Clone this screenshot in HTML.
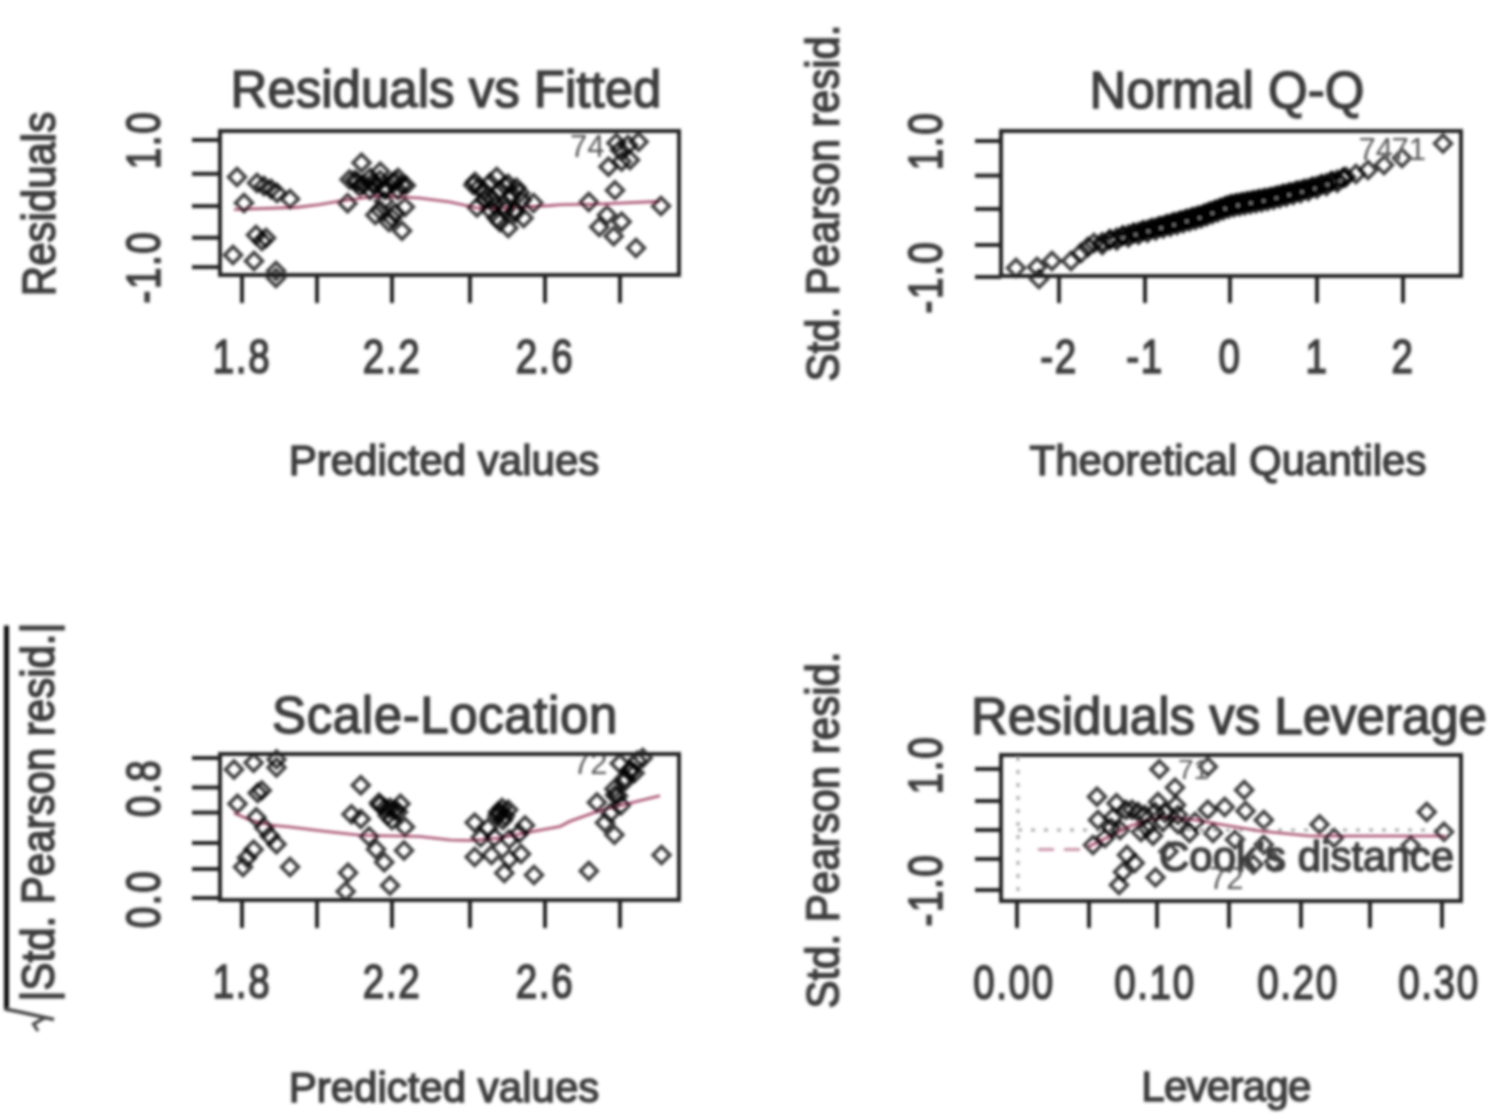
<!DOCTYPE html>
<html><head><meta charset="utf-8"><style>
html,body{margin:0;padding:0;background:#fff;width:1500px;height:1114px;overflow:hidden}
svg{display:block;font-family:"Liberation Sans",sans-serif}
</style></head><body>
<svg width="1500" height="1114" viewBox="0 0 1500 1114">
<defs><filter id="b" x="0" y="0" width="100%" height="100%" filterUnits="userSpaceOnUse"><feGaussianBlur stdDeviation="1.5"/></filter></defs>
<rect width="1500" height="1114" fill="#fff"/>
<g filter="url(#b)">
<text x="0" y="0" transform="translate(446,107)" font-size="51" text-anchor="middle" fill="#3c3c3c"  stroke="#3c3c3c" stroke-width="1.5">Residuals vs Fitted</text>
<polyline points="234,209.5 297,207.4 320,204.5 340,201 379,196 419,198 450,202 477,208 513,207.5 549,205.6 560,204.7 600,204 660,201.4" fill="none" stroke="#a85070" stroke-width="2.6" />
<path d="M237.0 168.6l8.4 8.4l-8.4 8.4l-8.4 -8.4z" fill="none" stroke="#000" stroke-opacity="0.75" stroke-width="3.6"/>
<path d="M257.0 174.6l8.4 8.4l-8.4 8.4l-8.4 -8.4z" fill="none" stroke="#000" stroke-opacity="0.75" stroke-width="3.6"/>
<path d="M264.0 177.6l8.4 8.4l-8.4 8.4l-8.4 -8.4z" fill="none" stroke="#000" stroke-opacity="0.75" stroke-width="3.6"/>
<path d="M271.0 180.6l8.4 8.4l-8.4 8.4l-8.4 -8.4z" fill="none" stroke="#000" stroke-opacity="0.75" stroke-width="3.6"/>
<path d="M277.0 184.6l8.4 8.4l-8.4 8.4l-8.4 -8.4z" fill="none" stroke="#000" stroke-opacity="0.75" stroke-width="3.6"/>
<path d="M290.0 190.6l8.4 8.4l-8.4 8.4l-8.4 -8.4z" fill="none" stroke="#000" stroke-opacity="0.75" stroke-width="3.6"/>
<path d="M244.0 194.6l8.4 8.4l-8.4 8.4l-8.4 -8.4z" fill="none" stroke="#000" stroke-opacity="0.75" stroke-width="3.6"/>
<path d="M256.0 226.6l8.4 8.4l-8.4 8.4l-8.4 -8.4z" fill="none" stroke="#000" stroke-opacity="0.75" stroke-width="3.6"/>
<path d="M266.0 229.6l8.4 8.4l-8.4 8.4l-8.4 -8.4z" fill="none" stroke="#000" stroke-opacity="0.75" stroke-width="3.6"/>
<path d="M262.0 232.6l8.4 8.4l-8.4 8.4l-8.4 -8.4z" fill="none" stroke="#000" stroke-opacity="0.75" stroke-width="3.6"/>
<path d="M233.0 246.6l8.4 8.4l-8.4 8.4l-8.4 -8.4z" fill="none" stroke="#000" stroke-opacity="0.75" stroke-width="3.6"/>
<path d="M254.0 252.6l8.4 8.4l-8.4 8.4l-8.4 -8.4z" fill="none" stroke="#000" stroke-opacity="0.75" stroke-width="3.6"/>
<path d="M276.0 262.6l8.4 8.4l-8.4 8.4l-8.4 -8.4z" fill="none" stroke="#000" stroke-opacity="0.75" stroke-width="3.6"/>
<path d="M276.0 269.6l8.4 8.4l-8.4 8.4l-8.4 -8.4z" fill="none" stroke="#000" stroke-opacity="0.75" stroke-width="3.6"/>
<path d="M361.5 154.3l8.4 8.4l-8.4 8.4l-8.4 -8.4z" fill="none" stroke="#000" stroke-opacity="0.75" stroke-width="3.6"/>
<path d="M349.6 171.1l8.4 8.4l-8.4 8.4l-8.4 -8.4z" fill="none" stroke="#000" stroke-opacity="0.75" stroke-width="3.6"/>
<path d="M363.4 176.0l8.4 8.4l-8.4 8.4l-8.4 -8.4z" fill="none" stroke="#000" stroke-opacity="0.75" stroke-width="3.6"/>
<path d="M380.2 163.2l8.4 8.4l-8.4 8.4l-8.4 -8.4z" fill="none" stroke="#000" stroke-opacity="0.75" stroke-width="3.6"/>
<path d="M375.3 177.0l8.4 8.4l-8.4 8.4l-8.4 -8.4z" fill="none" stroke="#000" stroke-opacity="0.75" stroke-width="3.6"/>
<path d="M392.0 174.0l8.4 8.4l-8.4 8.4l-8.4 -8.4z" fill="none" stroke="#000" stroke-opacity="0.75" stroke-width="3.6"/>
<path d="M405.9 177.0l8.4 8.4l-8.4 8.4l-8.4 -8.4z" fill="none" stroke="#000" stroke-opacity="0.75" stroke-width="3.6"/>
<path d="M347.6 194.8l8.4 8.4l-8.4 8.4l-8.4 -8.4z" fill="none" stroke="#000" stroke-opacity="0.75" stroke-width="3.6"/>
<path d="M404.9 198.7l8.4 8.4l-8.4 8.4l-8.4 -8.4z" fill="none" stroke="#000" stroke-opacity="0.75" stroke-width="3.6"/>
<path d="M375.3 206.6l8.4 8.4l-8.4 8.4l-8.4 -8.4z" fill="none" stroke="#000" stroke-opacity="0.75" stroke-width="3.6"/>
<path d="M389.0 213.6l8.4 8.4l-8.4 8.4l-8.4 -8.4z" fill="none" stroke="#000" stroke-opacity="0.75" stroke-width="3.6"/>
<path d="M402.0 222.4l8.4 8.4l-8.4 8.4l-8.4 -8.4z" fill="none" stroke="#000" stroke-opacity="0.75" stroke-width="3.6"/>
<path d="M384.0 192.6l8.4 8.4l-8.4 8.4l-8.4 -8.4z" fill="none" stroke="#000" stroke-opacity="0.75" stroke-width="3.6"/>
<path d="M370.0 169.6l8.4 8.4l-8.4 8.4l-8.4 -8.4z" fill="none" stroke="#000" stroke-opacity="0.75" stroke-width="3.6"/>
<path d="M385.0 181.6l8.4 8.4l-8.4 8.4l-8.4 -8.4z" fill="none" stroke="#000" stroke-opacity="0.75" stroke-width="3.6"/>
<path d="M398.0 169.6l8.4 8.4l-8.4 8.4l-8.4 -8.4z" fill="none" stroke="#000" stroke-opacity="0.75" stroke-width="3.6"/>
<path d="M357.0 173.6l8.4 8.4l-8.4 8.4l-8.4 -8.4z" fill="none" stroke="#000" stroke-opacity="0.75" stroke-width="3.6"/>
<path d="M395.0 204.6l8.4 8.4l-8.4 8.4l-8.4 -8.4z" fill="none" stroke="#000" stroke-opacity="0.75" stroke-width="3.6"/>
<path d="M473.3 176.6l8.4 8.4l-8.4 8.4l-8.4 -8.4z" fill="none" stroke="#000" stroke-opacity="0.75" stroke-width="3.6"/>
<path d="M478.7 179.3l8.4 8.4l-8.4 8.4l-8.4 -8.4z" fill="none" stroke="#000" stroke-opacity="0.75" stroke-width="3.6"/>
<path d="M496.7 168.6l8.4 8.4l-8.4 8.4l-8.4 -8.4z" fill="none" stroke="#000" stroke-opacity="0.75" stroke-width="3.6"/>
<path d="M491.3 190.1l8.4 8.4l-8.4 8.4l-8.4 -8.4z" fill="none" stroke="#000" stroke-opacity="0.75" stroke-width="3.6"/>
<path d="M508.0 175.6l8.4 8.4l-8.4 8.4l-8.4 -8.4z" fill="none" stroke="#000" stroke-opacity="0.75" stroke-width="3.6"/>
<path d="M516.4 179.3l8.4 8.4l-8.4 8.4l-8.4 -8.4z" fill="none" stroke="#000" stroke-opacity="0.75" stroke-width="3.6"/>
<path d="M521.8 191.9l8.4 8.4l-8.4 8.4l-8.4 -8.4z" fill="none" stroke="#000" stroke-opacity="0.75" stroke-width="3.6"/>
<path d="M533.5 194.6l8.4 8.4l-8.4 8.4l-8.4 -8.4z" fill="none" stroke="#000" stroke-opacity="0.75" stroke-width="3.6"/>
<path d="M477.0 199.1l8.4 8.4l-8.4 8.4l-8.4 -8.4z" fill="none" stroke="#000" stroke-opacity="0.75" stroke-width="3.6"/>
<path d="M496.7 209.6l8.4 8.4l-8.4 8.4l-8.4 -8.4z" fill="none" stroke="#000" stroke-opacity="0.75" stroke-width="3.6"/>
<path d="M508.3 219.6l8.4 8.4l-8.4 8.4l-8.4 -8.4z" fill="none" stroke="#000" stroke-opacity="0.75" stroke-width="3.6"/>
<path d="M523.6 209.6l8.4 8.4l-8.4 8.4l-8.4 -8.4z" fill="none" stroke="#000" stroke-opacity="0.75" stroke-width="3.6"/>
<path d="M504.0 197.3l8.4 8.4l-8.4 8.4l-8.4 -8.4z" fill="none" stroke="#000" stroke-opacity="0.75" stroke-width="3.6"/>
<path d="M485.0 183.6l8.4 8.4l-8.4 8.4l-8.4 -8.4z" fill="none" stroke="#000" stroke-opacity="0.75" stroke-width="3.6"/>
<path d="M500.0 181.6l8.4 8.4l-8.4 8.4l-8.4 -8.4z" fill="none" stroke="#000" stroke-opacity="0.75" stroke-width="3.6"/>
<path d="M512.0 186.6l8.4 8.4l-8.4 8.4l-8.4 -8.4z" fill="none" stroke="#000" stroke-opacity="0.75" stroke-width="3.6"/>
<path d="M490.0 201.6l8.4 8.4l-8.4 8.4l-8.4 -8.4z" fill="none" stroke="#000" stroke-opacity="0.75" stroke-width="3.6"/>
<path d="M515.0 201.6l8.4 8.4l-8.4 8.4l-8.4 -8.4z" fill="none" stroke="#000" stroke-opacity="0.75" stroke-width="3.6"/>
<path d="M616.4 134.7l8.4 8.4l-8.4 8.4l-8.4 -8.4z" fill="none" stroke="#000" stroke-opacity="0.75" stroke-width="3.6"/>
<path d="M638.6 133.4l8.4 8.4l-8.4 8.4l-8.4 -8.4z" fill="none" stroke="#000" stroke-opacity="0.75" stroke-width="3.6"/>
<path d="M608.5 158.3l8.4 8.4l-8.4 8.4l-8.4 -8.4z" fill="none" stroke="#000" stroke-opacity="0.75" stroke-width="3.6"/>
<path d="M621.6 153.1l8.4 8.4l-8.4 8.4l-8.4 -8.4z" fill="none" stroke="#000" stroke-opacity="0.75" stroke-width="3.6"/>
<path d="M615.0 181.9l8.4 8.4l-8.4 8.4l-8.4 -8.4z" fill="none" stroke="#000" stroke-opacity="0.75" stroke-width="3.6"/>
<path d="M588.8 193.6l8.4 8.4l-8.4 8.4l-8.4 -8.4z" fill="none" stroke="#000" stroke-opacity="0.75" stroke-width="3.6"/>
<path d="M661.0 197.6l8.4 8.4l-8.4 8.4l-8.4 -8.4z" fill="none" stroke="#000" stroke-opacity="0.75" stroke-width="3.6"/>
<path d="M599.3 218.6l8.4 8.4l-8.4 8.4l-8.4 -8.4z" fill="none" stroke="#000" stroke-opacity="0.75" stroke-width="3.6"/>
<path d="M613.7 227.8l8.4 8.4l-8.4 8.4l-8.4 -8.4z" fill="none" stroke="#000" stroke-opacity="0.75" stroke-width="3.6"/>
<path d="M621.6 213.3l8.4 8.4l-8.4 8.4l-8.4 -8.4z" fill="none" stroke="#000" stroke-opacity="0.75" stroke-width="3.6"/>
<path d="M607.0 206.6l8.4 8.4l-8.4 8.4l-8.4 -8.4z" fill="none" stroke="#000" stroke-opacity="0.75" stroke-width="3.6"/>
<path d="M636.0 239.6l8.4 8.4l-8.4 8.4l-8.4 -8.4z" fill="none" stroke="#000" stroke-opacity="0.75" stroke-width="3.6"/>
<path d="M628.0 136.6l8.4 8.4l-8.4 8.4l-8.4 -8.4z" fill="none" stroke="#000" stroke-opacity="0.75" stroke-width="3.6"/>
<path d="M355.0 171.6l8.4 8.4l-8.4 8.4l-8.4 -8.4z" fill="none" stroke="#000" stroke-opacity="0.75" stroke-width="3.6"/>
<path d="M372.0 174.6l8.4 8.4l-8.4 8.4l-8.4 -8.4z" fill="none" stroke="#000" stroke-opacity="0.75" stroke-width="3.6"/>
<path d="M380.0 171.6l8.4 8.4l-8.4 8.4l-8.4 -8.4z" fill="none" stroke="#000" stroke-opacity="0.75" stroke-width="3.6"/>
<path d="M395.0 172.6l8.4 8.4l-8.4 8.4l-8.4 -8.4z" fill="none" stroke="#000" stroke-opacity="0.75" stroke-width="3.6"/>
<path d="M402.0 176.6l8.4 8.4l-8.4 8.4l-8.4 -8.4z" fill="none" stroke="#000" stroke-opacity="0.75" stroke-width="3.6"/>
<path d="M360.0 178.6l8.4 8.4l-8.4 8.4l-8.4 -8.4z" fill="none" stroke="#000" stroke-opacity="0.75" stroke-width="3.6"/>
<path d="M370.0 181.6l8.4 8.4l-8.4 8.4l-8.4 -8.4z" fill="none" stroke="#000" stroke-opacity="0.75" stroke-width="3.6"/>
<path d="M385.0 179.6l8.4 8.4l-8.4 8.4l-8.4 -8.4z" fill="none" stroke="#000" stroke-opacity="0.75" stroke-width="3.6"/>
<path d="M398.0 181.6l8.4 8.4l-8.4 8.4l-8.4 -8.4z" fill="none" stroke="#000" stroke-opacity="0.75" stroke-width="3.6"/>
<path d="M380.0 201.6l8.4 8.4l-8.4 8.4l-8.4 -8.4z" fill="none" stroke="#000" stroke-opacity="0.75" stroke-width="3.6"/>
<path d="M392.0 209.6l8.4 8.4l-8.4 8.4l-8.4 -8.4z" fill="none" stroke="#000" stroke-opacity="0.75" stroke-width="3.6"/>
<path d="M475.0 173.6l8.4 8.4l-8.4 8.4l-8.4 -8.4z" fill="none" stroke="#000" stroke-opacity="0.75" stroke-width="3.6"/>
<path d="M490.0 174.6l8.4 8.4l-8.4 8.4l-8.4 -8.4z" fill="none" stroke="#000" stroke-opacity="0.75" stroke-width="3.6"/>
<path d="M505.0 177.6l8.4 8.4l-8.4 8.4l-8.4 -8.4z" fill="none" stroke="#000" stroke-opacity="0.75" stroke-width="3.6"/>
<path d="M520.0 184.6l8.4 8.4l-8.4 8.4l-8.4 -8.4z" fill="none" stroke="#000" stroke-opacity="0.75" stroke-width="3.6"/>
<path d="M485.0 191.6l8.4 8.4l-8.4 8.4l-8.4 -8.4z" fill="none" stroke="#000" stroke-opacity="0.75" stroke-width="3.6"/>
<path d="M495.0 196.6l8.4 8.4l-8.4 8.4l-8.4 -8.4z" fill="none" stroke="#000" stroke-opacity="0.75" stroke-width="3.6"/>
<path d="M505.0 201.6l8.4 8.4l-8.4 8.4l-8.4 -8.4z" fill="none" stroke="#000" stroke-opacity="0.75" stroke-width="3.6"/>
<path d="M515.0 204.6l8.4 8.4l-8.4 8.4l-8.4 -8.4z" fill="none" stroke="#000" stroke-opacity="0.75" stroke-width="3.6"/>
<path d="M500.0 213.6l8.4 8.4l-8.4 8.4l-8.4 -8.4z" fill="none" stroke="#000" stroke-opacity="0.75" stroke-width="3.6"/>
<path d="M620.0 141.6l8.4 8.4l-8.4 8.4l-8.4 -8.4z" fill="none" stroke="#000" stroke-opacity="0.75" stroke-width="3.6"/>
<path d="M630.0 151.6l8.4 8.4l-8.4 8.4l-8.4 -8.4z" fill="none" stroke="#000" stroke-opacity="0.75" stroke-width="3.6"/>
<text x="0" y="0" transform="translate(570,157)" font-size="31" text-anchor="start" fill="#555" >74</text>
<rect x="220" y="131" width="459" height="144" fill="none" stroke="#222" stroke-width="4"/>
<line x1="242" y1="275" x2="242" y2="303" stroke="#222" stroke-width="4"/>
<line x1="317" y1="275" x2="317" y2="303" stroke="#222" stroke-width="4"/>
<line x1="392" y1="275" x2="392" y2="303" stroke="#222" stroke-width="4"/>
<line x1="470" y1="275" x2="470" y2="303" stroke="#222" stroke-width="4"/>
<line x1="545" y1="275" x2="545" y2="303" stroke="#222" stroke-width="4"/>
<line x1="620" y1="275" x2="620" y2="303" stroke="#222" stroke-width="4"/>
<line x1="192" y1="140" x2="220" y2="140" stroke="#222" stroke-width="4"/>
<line x1="192" y1="173.8" x2="220" y2="173.8" stroke="#222" stroke-width="4"/>
<line x1="192" y1="206.1" x2="220" y2="206.1" stroke="#222" stroke-width="4"/>
<line x1="192" y1="237.7" x2="220" y2="237.7" stroke="#222" stroke-width="4"/>
<line x1="192" y1="267.1" x2="220" y2="267.1" stroke="#222" stroke-width="4"/>
<text x="0" y="0" transform="translate(242,373) scale(0.92,1.14)" font-size="42" text-anchor="middle" fill="#3c3c3c"  stroke="#3c3c3c" stroke-width="1.5" letter-spacing="1.7">1.8</text>
<text x="0" y="0" transform="translate(392,373) scale(0.92,1.14)" font-size="42" text-anchor="middle" fill="#3c3c3c"  stroke="#3c3c3c" stroke-width="1.5" letter-spacing="1.7">2.2</text>
<text x="0" y="0" transform="translate(545,373) scale(0.92,1.14)" font-size="42" text-anchor="middle" fill="#3c3c3c"  stroke="#3c3c3c" stroke-width="1.5" letter-spacing="1.7">2.6</text>
<text x="0" y="0" transform="translate(159.5,140) rotate(-90) scale(0.92,1.14)" font-size="42" text-anchor="middle" fill="#3c3c3c"  stroke="#3c3c3c" stroke-width="1.5" letter-spacing="1.7">1.0</text>
<text x="0" y="0" transform="translate(159.5,267) rotate(-90) scale(0.92,1.14)" font-size="42" text-anchor="middle" fill="#3c3c3c"  stroke="#3c3c3c" stroke-width="1.5" letter-spacing="1.7">-1.0</text>
<text x="0" y="0" transform="translate(55,204) rotate(-90) scale(1,1.1)" font-size="42" text-anchor="middle" fill="#3c3c3c"  stroke="#3c3c3c" stroke-width="1.5">Residuals</text>
<text x="0" y="0" transform="translate(444,475)" font-size="42" text-anchor="middle" fill="#3c3c3c"  stroke="#3c3c3c" stroke-width="1.5">Predicted values</text>
<text x="0" y="0" transform="translate(1227,108)" font-size="51" text-anchor="middle" fill="#3c3c3c"  stroke="#3c3c3c" stroke-width="1.5">Normal Q-Q</text>
<path d="M1016.0 259.6l8.4 8.4l-8.4 8.4l-8.4 -8.4z" fill="none" stroke="#000" stroke-opacity="0.75" stroke-width="3.6"/>
<path d="M1037.0 258.6l8.4 8.4l-8.4 8.4l-8.4 -8.4z" fill="none" stroke="#000" stroke-opacity="0.75" stroke-width="3.6"/>
<path d="M1039.0 270.6l8.4 8.4l-8.4 8.4l-8.4 -8.4z" fill="none" stroke="#000" stroke-opacity="0.75" stroke-width="3.6"/>
<path d="M1052.0 252.6l8.4 8.4l-8.4 8.4l-8.4 -8.4z" fill="none" stroke="#000" stroke-opacity="0.75" stroke-width="3.6"/>
<path d="M1071.0 252.6l8.4 8.4l-8.4 8.4l-8.4 -8.4z" fill="none" stroke="#000" stroke-opacity="0.75" stroke-width="3.6"/>
<path d="M1081.0 244.6l8.4 8.4l-8.4 8.4l-8.4 -8.4z" fill="none" stroke="#000" stroke-opacity="0.75" stroke-width="3.6"/>
<path d="M1088.0 238.6l8.4 8.4l-8.4 8.4l-8.4 -8.4z" fill="none" stroke="#000" stroke-opacity="0.75" stroke-width="3.6"/>
<path d="M1094.0 234.6l8.4 8.4l-8.4 8.4l-8.4 -8.4z" fill="none" stroke="#000" stroke-opacity="0.75" stroke-width="3.6"/>
<path d="M1102.3 233.7l8.4 8.4l-8.4 8.4l-8.4 -8.4z" fill="none" stroke="#000" stroke-opacity="0.75" stroke-width="3.6"/>
<path d="M1102.3 236.7l8.4 8.4l-8.4 8.4l-8.4 -8.4z" fill="none" stroke="#000" stroke-opacity="0.75" stroke-width="3.6"/>
<path d="M1109.9 231.3l8.4 8.4l-8.4 8.4l-8.4 -8.4z" fill="none" stroke="#000" stroke-opacity="0.75" stroke-width="3.6"/>
<path d="M1109.9 230.8l8.4 8.4l-8.4 8.4l-8.4 -8.4z" fill="none" stroke="#000" stroke-opacity="0.75" stroke-width="3.6"/>
<path d="M1116.7 229.2l8.4 8.4l-8.4 8.4l-8.4 -8.4z" fill="none" stroke="#000" stroke-opacity="0.75" stroke-width="3.6"/>
<path d="M1116.7 232.2l8.4 8.4l-8.4 8.4l-8.4 -8.4z" fill="none" stroke="#000" stroke-opacity="0.75" stroke-width="3.6"/>
<path d="M1122.8 227.5l8.4 8.4l-8.4 8.4l-8.4 -8.4z" fill="none" stroke="#000" stroke-opacity="0.75" stroke-width="3.6"/>
<path d="M1122.8 227.0l8.4 8.4l-8.4 8.4l-8.4 -8.4z" fill="none" stroke="#000" stroke-opacity="0.75" stroke-width="3.6"/>
<path d="M1128.4 226.1l8.4 8.4l-8.4 8.4l-8.4 -8.4z" fill="none" stroke="#000" stroke-opacity="0.75" stroke-width="3.6"/>
<path d="M1128.4 229.1l8.4 8.4l-8.4 8.4l-8.4 -8.4z" fill="none" stroke="#000" stroke-opacity="0.75" stroke-width="3.6"/>
<path d="M1133.6 224.8l8.4 8.4l-8.4 8.4l-8.4 -8.4z" fill="none" stroke="#000" stroke-opacity="0.75" stroke-width="3.6"/>
<path d="M1133.6 224.3l8.4 8.4l-8.4 8.4l-8.4 -8.4z" fill="none" stroke="#000" stroke-opacity="0.75" stroke-width="3.6"/>
<path d="M1138.5 223.5l8.4 8.4l-8.4 8.4l-8.4 -8.4z" fill="none" stroke="#000" stroke-opacity="0.75" stroke-width="3.6"/>
<path d="M1138.5 226.5l8.4 8.4l-8.4 8.4l-8.4 -8.4z" fill="none" stroke="#000" stroke-opacity="0.75" stroke-width="3.6"/>
<path d="M1143.1 222.4l8.4 8.4l-8.4 8.4l-8.4 -8.4z" fill="none" stroke="#000" stroke-opacity="0.75" stroke-width="3.6"/>
<path d="M1143.1 221.9l8.4 8.4l-8.4 8.4l-8.4 -8.4z" fill="none" stroke="#000" stroke-opacity="0.75" stroke-width="3.6"/>
<path d="M1147.5 221.3l8.4 8.4l-8.4 8.4l-8.4 -8.4z" fill="none" stroke="#000" stroke-opacity="0.75" stroke-width="3.6"/>
<path d="M1147.5 224.3l8.4 8.4l-8.4 8.4l-8.4 -8.4z" fill="none" stroke="#000" stroke-opacity="0.75" stroke-width="3.6"/>
<path d="M1151.7 220.2l8.4 8.4l-8.4 8.4l-8.4 -8.4z" fill="none" stroke="#000" stroke-opacity="0.75" stroke-width="3.6"/>
<path d="M1151.7 219.7l8.4 8.4l-8.4 8.4l-8.4 -8.4z" fill="none" stroke="#000" stroke-opacity="0.75" stroke-width="3.6"/>
<path d="M1155.7 219.2l8.4 8.4l-8.4 8.4l-8.4 -8.4z" fill="none" stroke="#000" stroke-opacity="0.75" stroke-width="3.6"/>
<path d="M1155.7 222.2l8.4 8.4l-8.4 8.4l-8.4 -8.4z" fill="none" stroke="#000" stroke-opacity="0.75" stroke-width="3.6"/>
<path d="M1159.5 218.2l8.4 8.4l-8.4 8.4l-8.4 -8.4z" fill="none" stroke="#000" stroke-opacity="0.75" stroke-width="3.6"/>
<path d="M1159.5 217.7l8.4 8.4l-8.4 8.4l-8.4 -8.4z" fill="none" stroke="#000" stroke-opacity="0.75" stroke-width="3.6"/>
<path d="M1163.2 217.2l8.4 8.4l-8.4 8.4l-8.4 -8.4z" fill="none" stroke="#000" stroke-opacity="0.75" stroke-width="3.6"/>
<path d="M1163.2 220.2l8.4 8.4l-8.4 8.4l-8.4 -8.4z" fill="none" stroke="#000" stroke-opacity="0.75" stroke-width="3.6"/>
<path d="M1166.8 216.3l8.4 8.4l-8.4 8.4l-8.4 -8.4z" fill="none" stroke="#000" stroke-opacity="0.75" stroke-width="3.6"/>
<path d="M1166.8 215.8l8.4 8.4l-8.4 8.4l-8.4 -8.4z" fill="none" stroke="#000" stroke-opacity="0.75" stroke-width="3.6"/>
<path d="M1170.3 215.3l8.4 8.4l-8.4 8.4l-8.4 -8.4z" fill="none" stroke="#000" stroke-opacity="0.75" stroke-width="3.6"/>
<path d="M1170.3 218.3l8.4 8.4l-8.4 8.4l-8.4 -8.4z" fill="none" stroke="#000" stroke-opacity="0.75" stroke-width="3.6"/>
<path d="M1173.7 214.4l8.4 8.4l-8.4 8.4l-8.4 -8.4z" fill="none" stroke="#000" stroke-opacity="0.75" stroke-width="3.6"/>
<path d="M1173.7 213.9l8.4 8.4l-8.4 8.4l-8.4 -8.4z" fill="none" stroke="#000" stroke-opacity="0.75" stroke-width="3.6"/>
<path d="M1177.0 213.6l8.4 8.4l-8.4 8.4l-8.4 -8.4z" fill="none" stroke="#000" stroke-opacity="0.75" stroke-width="3.6"/>
<path d="M1177.0 216.6l8.4 8.4l-8.4 8.4l-8.4 -8.4z" fill="none" stroke="#000" stroke-opacity="0.75" stroke-width="3.6"/>
<path d="M1180.2 212.7l8.4 8.4l-8.4 8.4l-8.4 -8.4z" fill="none" stroke="#000" stroke-opacity="0.75" stroke-width="3.6"/>
<path d="M1180.2 212.2l8.4 8.4l-8.4 8.4l-8.4 -8.4z" fill="none" stroke="#000" stroke-opacity="0.75" stroke-width="3.6"/>
<path d="M1183.3 211.9l8.4 8.4l-8.4 8.4l-8.4 -8.4z" fill="none" stroke="#000" stroke-opacity="0.75" stroke-width="3.6"/>
<path d="M1183.3 214.9l8.4 8.4l-8.4 8.4l-8.4 -8.4z" fill="none" stroke="#000" stroke-opacity="0.75" stroke-width="3.6"/>
<path d="M1186.4 211.0l8.4 8.4l-8.4 8.4l-8.4 -8.4z" fill="none" stroke="#000" stroke-opacity="0.75" stroke-width="3.6"/>
<path d="M1186.4 210.5l8.4 8.4l-8.4 8.4l-8.4 -8.4z" fill="none" stroke="#000" stroke-opacity="0.75" stroke-width="3.6"/>
<path d="M1189.5 210.2l8.4 8.4l-8.4 8.4l-8.4 -8.4z" fill="none" stroke="#000" stroke-opacity="0.75" stroke-width="3.6"/>
<path d="M1189.5 213.2l8.4 8.4l-8.4 8.4l-8.4 -8.4z" fill="none" stroke="#000" stroke-opacity="0.75" stroke-width="3.6"/>
<path d="M1192.5 209.4l8.4 8.4l-8.4 8.4l-8.4 -8.4z" fill="none" stroke="#000" stroke-opacity="0.75" stroke-width="3.6"/>
<path d="M1192.5 208.9l8.4 8.4l-8.4 8.4l-8.4 -8.4z" fill="none" stroke="#000" stroke-opacity="0.75" stroke-width="3.6"/>
<path d="M1195.4 208.6l8.4 8.4l-8.4 8.4l-8.4 -8.4z" fill="none" stroke="#000" stroke-opacity="0.75" stroke-width="3.6"/>
<path d="M1195.4 211.6l8.4 8.4l-8.4 8.4l-8.4 -8.4z" fill="none" stroke="#000" stroke-opacity="0.75" stroke-width="3.6"/>
<path d="M1198.3 207.9l8.4 8.4l-8.4 8.4l-8.4 -8.4z" fill="none" stroke="#000" stroke-opacity="0.75" stroke-width="3.6"/>
<path d="M1198.3 207.4l8.4 8.4l-8.4 8.4l-8.4 -8.4z" fill="none" stroke="#000" stroke-opacity="0.75" stroke-width="3.6"/>
<path d="M1201.2 207.0l8.4 8.4l-8.4 8.4l-8.4 -8.4z" fill="none" stroke="#000" stroke-opacity="0.75" stroke-width="3.6"/>
<path d="M1201.2 210.0l8.4 8.4l-8.4 8.4l-8.4 -8.4z" fill="none" stroke="#000" stroke-opacity="0.75" stroke-width="3.6"/>
<path d="M1204.0 206.0l8.4 8.4l-8.4 8.4l-8.4 -8.4z" fill="none" stroke="#000" stroke-opacity="0.75" stroke-width="3.6"/>
<path d="M1204.0 205.5l8.4 8.4l-8.4 8.4l-8.4 -8.4z" fill="none" stroke="#000" stroke-opacity="0.75" stroke-width="3.6"/>
<path d="M1206.8 204.9l8.4 8.4l-8.4 8.4l-8.4 -8.4z" fill="none" stroke="#000" stroke-opacity="0.75" stroke-width="3.6"/>
<path d="M1206.8 207.9l8.4 8.4l-8.4 8.4l-8.4 -8.4z" fill="none" stroke="#000" stroke-opacity="0.75" stroke-width="3.6"/>
<path d="M1209.6 203.9l8.4 8.4l-8.4 8.4l-8.4 -8.4z" fill="none" stroke="#000" stroke-opacity="0.75" stroke-width="3.6"/>
<path d="M1209.6 203.4l8.4 8.4l-8.4 8.4l-8.4 -8.4z" fill="none" stroke="#000" stroke-opacity="0.75" stroke-width="3.6"/>
<path d="M1212.4 202.9l8.4 8.4l-8.4 8.4l-8.4 -8.4z" fill="none" stroke="#000" stroke-opacity="0.75" stroke-width="3.6"/>
<path d="M1212.4 205.9l8.4 8.4l-8.4 8.4l-8.4 -8.4z" fill="none" stroke="#000" stroke-opacity="0.75" stroke-width="3.6"/>
<path d="M1215.1 202.0l8.4 8.4l-8.4 8.4l-8.4 -8.4z" fill="none" stroke="#000" stroke-opacity="0.75" stroke-width="3.6"/>
<path d="M1215.1 201.5l8.4 8.4l-8.4 8.4l-8.4 -8.4z" fill="none" stroke="#000" stroke-opacity="0.75" stroke-width="3.6"/>
<path d="M1217.8 201.0l8.4 8.4l-8.4 8.4l-8.4 -8.4z" fill="none" stroke="#000" stroke-opacity="0.75" stroke-width="3.6"/>
<path d="M1217.8 204.0l8.4 8.4l-8.4 8.4l-8.4 -8.4z" fill="none" stroke="#000" stroke-opacity="0.75" stroke-width="3.6"/>
<path d="M1220.5 200.0l8.4 8.4l-8.4 8.4l-8.4 -8.4z" fill="none" stroke="#000" stroke-opacity="0.75" stroke-width="3.6"/>
<path d="M1220.5 199.5l8.4 8.4l-8.4 8.4l-8.4 -8.4z" fill="none" stroke="#000" stroke-opacity="0.75" stroke-width="3.6"/>
<path d="M1223.3 199.0l8.4 8.4l-8.4 8.4l-8.4 -8.4z" fill="none" stroke="#000" stroke-opacity="0.75" stroke-width="3.6"/>
<path d="M1223.3 202.0l8.4 8.4l-8.4 8.4l-8.4 -8.4z" fill="none" stroke="#000" stroke-opacity="0.75" stroke-width="3.6"/>
<path d="M1226.0 198.1l8.4 8.4l-8.4 8.4l-8.4 -8.4z" fill="none" stroke="#000" stroke-opacity="0.75" stroke-width="3.6"/>
<path d="M1226.0 197.6l8.4 8.4l-8.4 8.4l-8.4 -8.4z" fill="none" stroke="#000" stroke-opacity="0.75" stroke-width="3.6"/>
<path d="M1228.7 197.1l8.4 8.4l-8.4 8.4l-8.4 -8.4z" fill="none" stroke="#000" stroke-opacity="0.75" stroke-width="3.6"/>
<path d="M1228.7 200.1l8.4 8.4l-8.4 8.4l-8.4 -8.4z" fill="none" stroke="#000" stroke-opacity="0.75" stroke-width="3.6"/>
<path d="M1231.3 196.4l8.4 8.4l-8.4 8.4l-8.4 -8.4z" fill="none" stroke="#000" stroke-opacity="0.75" stroke-width="3.6"/>
<path d="M1231.3 195.9l8.4 8.4l-8.4 8.4l-8.4 -8.4z" fill="none" stroke="#000" stroke-opacity="0.75" stroke-width="3.6"/>
<path d="M1234.0 195.9l8.4 8.4l-8.4 8.4l-8.4 -8.4z" fill="none" stroke="#000" stroke-opacity="0.75" stroke-width="3.6"/>
<path d="M1234.0 198.9l8.4 8.4l-8.4 8.4l-8.4 -8.4z" fill="none" stroke="#000" stroke-opacity="0.75" stroke-width="3.6"/>
<path d="M1236.7 195.4l8.4 8.4l-8.4 8.4l-8.4 -8.4z" fill="none" stroke="#000" stroke-opacity="0.75" stroke-width="3.6"/>
<path d="M1236.7 194.9l8.4 8.4l-8.4 8.4l-8.4 -8.4z" fill="none" stroke="#000" stroke-opacity="0.75" stroke-width="3.6"/>
<path d="M1239.5 194.9l8.4 8.4l-8.4 8.4l-8.4 -8.4z" fill="none" stroke="#000" stroke-opacity="0.75" stroke-width="3.6"/>
<path d="M1239.5 197.9l8.4 8.4l-8.4 8.4l-8.4 -8.4z" fill="none" stroke="#000" stroke-opacity="0.75" stroke-width="3.6"/>
<path d="M1242.2 194.4l8.4 8.4l-8.4 8.4l-8.4 -8.4z" fill="none" stroke="#000" stroke-opacity="0.75" stroke-width="3.6"/>
<path d="M1242.2 193.9l8.4 8.4l-8.4 8.4l-8.4 -8.4z" fill="none" stroke="#000" stroke-opacity="0.75" stroke-width="3.6"/>
<path d="M1244.9 193.9l8.4 8.4l-8.4 8.4l-8.4 -8.4z" fill="none" stroke="#000" stroke-opacity="0.75" stroke-width="3.6"/>
<path d="M1244.9 196.9l8.4 8.4l-8.4 8.4l-8.4 -8.4z" fill="none" stroke="#000" stroke-opacity="0.75" stroke-width="3.6"/>
<path d="M1247.6 193.4l8.4 8.4l-8.4 8.4l-8.4 -8.4z" fill="none" stroke="#000" stroke-opacity="0.75" stroke-width="3.6"/>
<path d="M1247.6 192.9l8.4 8.4l-8.4 8.4l-8.4 -8.4z" fill="none" stroke="#000" stroke-opacity="0.75" stroke-width="3.6"/>
<path d="M1250.4 192.9l8.4 8.4l-8.4 8.4l-8.4 -8.4z" fill="none" stroke="#000" stroke-opacity="0.75" stroke-width="3.6"/>
<path d="M1250.4 195.9l8.4 8.4l-8.4 8.4l-8.4 -8.4z" fill="none" stroke="#000" stroke-opacity="0.75" stroke-width="3.6"/>
<path d="M1253.2 192.4l8.4 8.4l-8.4 8.4l-8.4 -8.4z" fill="none" stroke="#000" stroke-opacity="0.75" stroke-width="3.6"/>
<path d="M1253.2 191.9l8.4 8.4l-8.4 8.4l-8.4 -8.4z" fill="none" stroke="#000" stroke-opacity="0.75" stroke-width="3.6"/>
<path d="M1256.0 191.9l8.4 8.4l-8.4 8.4l-8.4 -8.4z" fill="none" stroke="#000" stroke-opacity="0.75" stroke-width="3.6"/>
<path d="M1256.0 194.9l8.4 8.4l-8.4 8.4l-8.4 -8.4z" fill="none" stroke="#000" stroke-opacity="0.75" stroke-width="3.6"/>
<path d="M1258.8 191.3l8.4 8.4l-8.4 8.4l-8.4 -8.4z" fill="none" stroke="#000" stroke-opacity="0.75" stroke-width="3.6"/>
<path d="M1258.8 190.8l8.4 8.4l-8.4 8.4l-8.4 -8.4z" fill="none" stroke="#000" stroke-opacity="0.75" stroke-width="3.6"/>
<path d="M1261.7 190.8l8.4 8.4l-8.4 8.4l-8.4 -8.4z" fill="none" stroke="#000" stroke-opacity="0.75" stroke-width="3.6"/>
<path d="M1261.7 193.8l8.4 8.4l-8.4 8.4l-8.4 -8.4z" fill="none" stroke="#000" stroke-opacity="0.75" stroke-width="3.6"/>
<path d="M1264.6 190.3l8.4 8.4l-8.4 8.4l-8.4 -8.4z" fill="none" stroke="#000" stroke-opacity="0.75" stroke-width="3.6"/>
<path d="M1264.6 189.8l8.4 8.4l-8.4 8.4l-8.4 -8.4z" fill="none" stroke="#000" stroke-opacity="0.75" stroke-width="3.6"/>
<path d="M1267.5 189.7l8.4 8.4l-8.4 8.4l-8.4 -8.4z" fill="none" stroke="#000" stroke-opacity="0.75" stroke-width="3.6"/>
<path d="M1267.5 192.7l8.4 8.4l-8.4 8.4l-8.4 -8.4z" fill="none" stroke="#000" stroke-opacity="0.75" stroke-width="3.6"/>
<path d="M1270.5 189.2l8.4 8.4l-8.4 8.4l-8.4 -8.4z" fill="none" stroke="#000" stroke-opacity="0.75" stroke-width="3.6"/>
<path d="M1270.5 188.7l8.4 8.4l-8.4 8.4l-8.4 -8.4z" fill="none" stroke="#000" stroke-opacity="0.75" stroke-width="3.6"/>
<path d="M1273.6 188.4l8.4 8.4l-8.4 8.4l-8.4 -8.4z" fill="none" stroke="#000" stroke-opacity="0.75" stroke-width="3.6"/>
<path d="M1273.6 191.4l8.4 8.4l-8.4 8.4l-8.4 -8.4z" fill="none" stroke="#000" stroke-opacity="0.75" stroke-width="3.6"/>
<path d="M1276.7 187.7l8.4 8.4l-8.4 8.4l-8.4 -8.4z" fill="none" stroke="#000" stroke-opacity="0.75" stroke-width="3.6"/>
<path d="M1276.7 187.2l8.4 8.4l-8.4 8.4l-8.4 -8.4z" fill="none" stroke="#000" stroke-opacity="0.75" stroke-width="3.6"/>
<path d="M1279.8 186.9l8.4 8.4l-8.4 8.4l-8.4 -8.4z" fill="none" stroke="#000" stroke-opacity="0.75" stroke-width="3.6"/>
<path d="M1279.8 189.9l8.4 8.4l-8.4 8.4l-8.4 -8.4z" fill="none" stroke="#000" stroke-opacity="0.75" stroke-width="3.6"/>
<path d="M1283.0 186.1l8.4 8.4l-8.4 8.4l-8.4 -8.4z" fill="none" stroke="#000" stroke-opacity="0.75" stroke-width="3.6"/>
<path d="M1283.0 185.6l8.4 8.4l-8.4 8.4l-8.4 -8.4z" fill="none" stroke="#000" stroke-opacity="0.75" stroke-width="3.6"/>
<path d="M1286.3 185.3l8.4 8.4l-8.4 8.4l-8.4 -8.4z" fill="none" stroke="#000" stroke-opacity="0.75" stroke-width="3.6"/>
<path d="M1286.3 188.3l8.4 8.4l-8.4 8.4l-8.4 -8.4z" fill="none" stroke="#000" stroke-opacity="0.75" stroke-width="3.6"/>
<path d="M1289.7 184.5l8.4 8.4l-8.4 8.4l-8.4 -8.4z" fill="none" stroke="#000" stroke-opacity="0.75" stroke-width="3.6"/>
<path d="M1289.7 184.0l8.4 8.4l-8.4 8.4l-8.4 -8.4z" fill="none" stroke="#000" stroke-opacity="0.75" stroke-width="3.6"/>
<path d="M1293.2 183.7l8.4 8.4l-8.4 8.4l-8.4 -8.4z" fill="none" stroke="#000" stroke-opacity="0.75" stroke-width="3.6"/>
<path d="M1293.2 186.7l8.4 8.4l-8.4 8.4l-8.4 -8.4z" fill="none" stroke="#000" stroke-opacity="0.75" stroke-width="3.6"/>
<path d="M1296.8 182.8l8.4 8.4l-8.4 8.4l-8.4 -8.4z" fill="none" stroke="#000" stroke-opacity="0.75" stroke-width="3.6"/>
<path d="M1296.8 182.3l8.4 8.4l-8.4 8.4l-8.4 -8.4z" fill="none" stroke="#000" stroke-opacity="0.75" stroke-width="3.6"/>
<path d="M1300.5 181.9l8.4 8.4l-8.4 8.4l-8.4 -8.4z" fill="none" stroke="#000" stroke-opacity="0.75" stroke-width="3.6"/>
<path d="M1300.5 184.9l8.4 8.4l-8.4 8.4l-8.4 -8.4z" fill="none" stroke="#000" stroke-opacity="0.75" stroke-width="3.6"/>
<path d="M1304.3 181.0l8.4 8.4l-8.4 8.4l-8.4 -8.4z" fill="none" stroke="#000" stroke-opacity="0.75" stroke-width="3.6"/>
<path d="M1304.3 180.5l8.4 8.4l-8.4 8.4l-8.4 -8.4z" fill="none" stroke="#000" stroke-opacity="0.75" stroke-width="3.6"/>
<path d="M1308.3 180.0l8.4 8.4l-8.4 8.4l-8.4 -8.4z" fill="none" stroke="#000" stroke-opacity="0.75" stroke-width="3.6"/>
<path d="M1308.3 183.0l8.4 8.4l-8.4 8.4l-8.4 -8.4z" fill="none" stroke="#000" stroke-opacity="0.75" stroke-width="3.6"/>
<path d="M1312.5 178.9l8.4 8.4l-8.4 8.4l-8.4 -8.4z" fill="none" stroke="#000" stroke-opacity="0.75" stroke-width="3.6"/>
<path d="M1312.5 178.4l8.4 8.4l-8.4 8.4l-8.4 -8.4z" fill="none" stroke="#000" stroke-opacity="0.75" stroke-width="3.6"/>
<path d="M1316.9 177.5l8.4 8.4l-8.4 8.4l-8.4 -8.4z" fill="none" stroke="#000" stroke-opacity="0.75" stroke-width="3.6"/>
<path d="M1316.9 180.5l8.4 8.4l-8.4 8.4l-8.4 -8.4z" fill="none" stroke="#000" stroke-opacity="0.75" stroke-width="3.6"/>
<path d="M1321.5 176.2l8.4 8.4l-8.4 8.4l-8.4 -8.4z" fill="none" stroke="#000" stroke-opacity="0.75" stroke-width="3.6"/>
<path d="M1321.5 175.7l8.4 8.4l-8.4 8.4l-8.4 -8.4z" fill="none" stroke="#000" stroke-opacity="0.75" stroke-width="3.6"/>
<path d="M1326.4 174.7l8.4 8.4l-8.4 8.4l-8.4 -8.4z" fill="none" stroke="#000" stroke-opacity="0.75" stroke-width="3.6"/>
<path d="M1326.4 177.7l8.4 8.4l-8.4 8.4l-8.4 -8.4z" fill="none" stroke="#000" stroke-opacity="0.75" stroke-width="3.6"/>
<path d="M1331.6 173.1l8.4 8.4l-8.4 8.4l-8.4 -8.4z" fill="none" stroke="#000" stroke-opacity="0.75" stroke-width="3.6"/>
<path d="M1331.6 172.6l8.4 8.4l-8.4 8.4l-8.4 -8.4z" fill="none" stroke="#000" stroke-opacity="0.75" stroke-width="3.6"/>
<path d="M1337.2 171.4l8.4 8.4l-8.4 8.4l-8.4 -8.4z" fill="none" stroke="#000" stroke-opacity="0.75" stroke-width="3.6"/>
<path d="M1337.2 174.4l8.4 8.4l-8.4 8.4l-8.4 -8.4z" fill="none" stroke="#000" stroke-opacity="0.75" stroke-width="3.6"/>
<path d="M1343.3 169.5l8.4 8.4l-8.4 8.4l-8.4 -8.4z" fill="none" stroke="#000" stroke-opacity="0.75" stroke-width="3.6"/>
<path d="M1343.3 169.0l8.4 8.4l-8.4 8.4l-8.4 -8.4z" fill="none" stroke="#000" stroke-opacity="0.75" stroke-width="3.6"/>
<path d="M1346.0 168.6l8.4 8.4l-8.4 8.4l-8.4 -8.4z" fill="none" stroke="#000" stroke-opacity="0.75" stroke-width="3.6"/>
<path d="M1356.0 165.6l8.4 8.4l-8.4 8.4l-8.4 -8.4z" fill="none" stroke="#000" stroke-opacity="0.75" stroke-width="3.6"/>
<path d="M1368.0 161.6l8.4 8.4l-8.4 8.4l-8.4 -8.4z" fill="none" stroke="#000" stroke-opacity="0.75" stroke-width="3.6"/>
<path d="M1384.0 156.6l8.4 8.4l-8.4 8.4l-8.4 -8.4z" fill="none" stroke="#000" stroke-opacity="0.75" stroke-width="3.6"/>
<path d="M1402.0 149.6l8.4 8.4l-8.4 8.4l-8.4 -8.4z" fill="none" stroke="#000" stroke-opacity="0.75" stroke-width="3.6"/>
<path d="M1443.0 135.1l8.4 8.4l-8.4 8.4l-8.4 -8.4z" fill="none" stroke="#000" stroke-opacity="0.75" stroke-width="3.6"/>
<circle cx="1110.0" cy="241.7" r="1.4" fill="#fff" fill-opacity="0.6"/>
<circle cx="1122.8" cy="237.9" r="1.4" fill="#fff" fill-opacity="0.6"/>
<circle cx="1135.6" cy="234.7" r="1.4" fill="#fff" fill-opacity="0.6"/>
<circle cx="1148.4" cy="231.4" r="1.4" fill="#fff" fill-opacity="0.6"/>
<circle cx="1161.2" cy="228.2" r="1.4" fill="#fff" fill-opacity="0.6"/>
<circle cx="1174.0" cy="224.8" r="1.4" fill="#fff" fill-opacity="0.6"/>
<circle cx="1186.8" cy="221.3" r="1.4" fill="#fff" fill-opacity="0.6"/>
<circle cx="1199.6" cy="217.9" r="1.4" fill="#fff" fill-opacity="0.6"/>
<circle cx="1212.4" cy="213.3" r="1.4" fill="#fff" fill-opacity="0.6"/>
<circle cx="1225.2" cy="208.7" r="1.4" fill="#fff" fill-opacity="0.6"/>
<circle cx="1238.0" cy="205.5" r="1.4" fill="#fff" fill-opacity="0.6"/>
<circle cx="1250.8" cy="203.2" r="1.4" fill="#fff" fill-opacity="0.6"/>
<circle cx="1263.6" cy="200.9" r="1.4" fill="#fff" fill-opacity="0.6"/>
<circle cx="1276.4" cy="198.1" r="1.4" fill="#fff" fill-opacity="0.6"/>
<circle cx="1289.2" cy="195.0" r="1.4" fill="#fff" fill-opacity="0.6"/>
<circle cx="1302.0" cy="191.9" r="1.4" fill="#fff" fill-opacity="0.6"/>
<circle cx="1314.8" cy="188.6" r="1.4" fill="#fff" fill-opacity="0.6"/>
<circle cx="1327.6" cy="184.7" r="1.4" fill="#fff" fill-opacity="0.6"/>
<circle cx="1340.4" cy="180.9" r="1.4" fill="#fff" fill-opacity="0.6"/>
<text x="0" y="0" transform="translate(1393,160)" font-size="31" text-anchor="end" fill="#555" >74</text>
<text x="0" y="0" transform="translate(1426,160)" font-size="31" text-anchor="end" fill="#555" >71</text>
<rect x="1001" y="131" width="460" height="145" fill="none" stroke="#222" stroke-width="4"/>
<line x1="1059" y1="276" x2="1059" y2="303" stroke="#222" stroke-width="4"/>
<line x1="1145" y1="276" x2="1145" y2="303" stroke="#222" stroke-width="4"/>
<line x1="1230" y1="276" x2="1230" y2="303" stroke="#222" stroke-width="4"/>
<line x1="1317" y1="276" x2="1317" y2="303" stroke="#222" stroke-width="4"/>
<line x1="1403" y1="276" x2="1403" y2="303" stroke="#222" stroke-width="4"/>
<line x1="975" y1="141" x2="1001" y2="141" stroke="#222" stroke-width="4"/>
<line x1="975" y1="175.6" x2="1001" y2="175.6" stroke="#222" stroke-width="4"/>
<line x1="975" y1="209" x2="1001" y2="209" stroke="#222" stroke-width="4"/>
<line x1="975" y1="245" x2="1001" y2="245" stroke="#222" stroke-width="4"/>
<line x1="975" y1="277" x2="1001" y2="277" stroke="#222" stroke-width="4"/>
<text x="0" y="0" transform="translate(1059,373) scale(0.92,1.14)" font-size="42" text-anchor="middle" fill="#3c3c3c"  stroke="#3c3c3c" stroke-width="1.5" letter-spacing="1.7">-2</text>
<text x="0" y="0" transform="translate(1145,373) scale(0.92,1.14)" font-size="42" text-anchor="middle" fill="#3c3c3c"  stroke="#3c3c3c" stroke-width="1.5" letter-spacing="1.7">-1</text>
<text x="0" y="0" transform="translate(1230,373) scale(0.92,1.14)" font-size="42" text-anchor="middle" fill="#3c3c3c"  stroke="#3c3c3c" stroke-width="1.5" letter-spacing="1.7">0</text>
<text x="0" y="0" transform="translate(1317,373) scale(0.92,1.14)" font-size="42" text-anchor="middle" fill="#3c3c3c"  stroke="#3c3c3c" stroke-width="1.5" letter-spacing="1.7">1</text>
<text x="0" y="0" transform="translate(1403,373) scale(0.92,1.14)" font-size="42" text-anchor="middle" fill="#3c3c3c"  stroke="#3c3c3c" stroke-width="1.5" letter-spacing="1.7">2</text>
<text x="0" y="0" transform="translate(942,141) rotate(-90) scale(0.92,1.14)" font-size="42" text-anchor="middle" fill="#3c3c3c"  stroke="#3c3c3c" stroke-width="1.5" letter-spacing="1.7">1.0</text>
<text x="0" y="0" transform="translate(942,277) rotate(-90) scale(0.92,1.14)" font-size="42" text-anchor="middle" fill="#3c3c3c"  stroke="#3c3c3c" stroke-width="1.5" letter-spacing="1.7">-1.0</text>
<text x="0" y="0" transform="translate(838.5,203) rotate(-90) scale(1,1.12)" font-size="42" text-anchor="middle" fill="#3c3c3c"  stroke="#3c3c3c" stroke-width="1.5">Std. Pearson resid.</text>
<text x="0" y="0" transform="translate(1228,475)" font-size="42" text-anchor="middle" fill="#3c3c3c"  stroke="#3c3c3c" stroke-width="1.5">Theoretical Quantiles</text>
<text x="0" y="0" transform="translate(445,733)" font-size="51" text-anchor="middle" fill="#3c3c3c"  stroke="#3c3c3c" stroke-width="1.5" letter-spacing="0.6">Scale-Location</text>
<polyline points="234,813 250,820 270,825 290,827 320,830.7 360,835.3 420,836.5 450,840 470,840.5 500,838 530,832 560,826.5 570,821.3 600,810.6 660,795.8" fill="none" stroke="#a85070" stroke-width="2.6" />
<path d="M234.0 761.1l8.4 8.4l-8.4 8.4l-8.4 -8.4z" fill="none" stroke="#000" stroke-opacity="0.75" stroke-width="3.6"/>
<path d="M253.6 754.4l8.4 8.4l-8.4 8.4l-8.4 -8.4z" fill="none" stroke="#000" stroke-opacity="0.75" stroke-width="3.6"/>
<path d="M276.5 759.1l8.4 8.4l-8.4 8.4l-8.4 -8.4z" fill="none" stroke="#000" stroke-opacity="0.75" stroke-width="3.6"/>
<path d="M276.5 751.0l8.4 8.4l-8.4 8.4l-8.4 -8.4z" fill="none" stroke="#000" stroke-opacity="0.75" stroke-width="3.6"/>
<path d="M261.7 782.0l8.4 8.4l-8.4 8.4l-8.4 -8.4z" fill="none" stroke="#000" stroke-opacity="0.75" stroke-width="3.6"/>
<path d="M257.7 784.6l8.4 8.4l-8.4 8.4l-8.4 -8.4z" fill="none" stroke="#000" stroke-opacity="0.75" stroke-width="3.6"/>
<path d="M237.5 795.4l8.4 8.4l-8.4 8.4l-8.4 -8.4z" fill="none" stroke="#000" stroke-opacity="0.75" stroke-width="3.6"/>
<path d="M256.3 808.9l8.4 8.4l-8.4 8.4l-8.4 -8.4z" fill="none" stroke="#000" stroke-opacity="0.75" stroke-width="3.6"/>
<path d="M264.4 819.6l8.4 8.4l-8.4 8.4l-8.4 -8.4z" fill="none" stroke="#000" stroke-opacity="0.75" stroke-width="3.6"/>
<path d="M269.8 827.6l8.4 8.4l-8.4 8.4l-8.4 -8.4z" fill="none" stroke="#000" stroke-opacity="0.75" stroke-width="3.6"/>
<path d="M276.5 835.8l8.4 8.4l-8.4 8.4l-8.4 -8.4z" fill="none" stroke="#000" stroke-opacity="0.75" stroke-width="3.6"/>
<path d="M253.6 841.2l8.4 8.4l-8.4 8.4l-8.4 -8.4z" fill="none" stroke="#000" stroke-opacity="0.75" stroke-width="3.6"/>
<path d="M243.0 858.6l8.4 8.4l-8.4 8.4l-8.4 -8.4z" fill="none" stroke="#000" stroke-opacity="0.75" stroke-width="3.6"/>
<path d="M290.0 858.6l8.4 8.4l-8.4 8.4l-8.4 -8.4z" fill="none" stroke="#000" stroke-opacity="0.75" stroke-width="3.6"/>
<path d="M247.0 849.3l8.4 8.4l-8.4 8.4l-8.4 -8.4z" fill="none" stroke="#000" stroke-opacity="0.75" stroke-width="3.6"/>
<path d="M360.8 776.8l8.4 8.4l-8.4 8.4l-8.4 -8.4z" fill="none" stroke="#000" stroke-opacity="0.75" stroke-width="3.6"/>
<path d="M379.0 794.3l8.4 8.4l-8.4 8.4l-8.4 -8.4z" fill="none" stroke="#000" stroke-opacity="0.75" stroke-width="3.6"/>
<path d="M400.5 795.4l8.4 8.4l-8.4 8.4l-8.4 -8.4z" fill="none" stroke="#000" stroke-opacity="0.75" stroke-width="3.6"/>
<path d="M351.5 805.9l8.4 8.4l-8.4 8.4l-8.4 -8.4z" fill="none" stroke="#000" stroke-opacity="0.75" stroke-width="3.6"/>
<path d="M387.7 807.1l8.4 8.4l-8.4 8.4l-8.4 -8.4z" fill="none" stroke="#000" stroke-opacity="0.75" stroke-width="3.6"/>
<path d="M392.0 811.6l8.4 8.4l-8.4 8.4l-8.4 -8.4z" fill="none" stroke="#000" stroke-opacity="0.75" stroke-width="3.6"/>
<path d="M405.0 818.6l8.4 8.4l-8.4 8.4l-8.4 -8.4z" fill="none" stroke="#000" stroke-opacity="0.75" stroke-width="3.6"/>
<path d="M369.0 828.1l8.4 8.4l-8.4 8.4l-8.4 -8.4z" fill="none" stroke="#000" stroke-opacity="0.75" stroke-width="3.6"/>
<path d="M376.0 840.9l8.4 8.4l-8.4 8.4l-8.4 -8.4z" fill="none" stroke="#000" stroke-opacity="0.75" stroke-width="3.6"/>
<path d="M384.2 853.8l8.4 8.4l-8.4 8.4l-8.4 -8.4z" fill="none" stroke="#000" stroke-opacity="0.75" stroke-width="3.6"/>
<path d="M404.0 842.1l8.4 8.4l-8.4 8.4l-8.4 -8.4z" fill="none" stroke="#000" stroke-opacity="0.75" stroke-width="3.6"/>
<path d="M348.0 864.3l8.4 8.4l-8.4 8.4l-8.4 -8.4z" fill="none" stroke="#000" stroke-opacity="0.75" stroke-width="3.6"/>
<path d="M345.7 883.0l8.4 8.4l-8.4 8.4l-8.4 -8.4z" fill="none" stroke="#000" stroke-opacity="0.75" stroke-width="3.6"/>
<path d="M390.0 877.1l8.4 8.4l-8.4 8.4l-8.4 -8.4z" fill="none" stroke="#000" stroke-opacity="0.75" stroke-width="3.6"/>
<path d="M360.8 810.6l8.4 8.4l-8.4 8.4l-8.4 -8.4z" fill="none" stroke="#000" stroke-opacity="0.75" stroke-width="3.6"/>
<path d="M385.0 799.6l8.4 8.4l-8.4 8.4l-8.4 -8.4z" fill="none" stroke="#000" stroke-opacity="0.75" stroke-width="3.6"/>
<path d="M395.0 801.6l8.4 8.4l-8.4 8.4l-8.4 -8.4z" fill="none" stroke="#000" stroke-opacity="0.75" stroke-width="3.6"/>
<path d="M474.7 814.2l8.4 8.4l-8.4 8.4l-8.4 -8.4z" fill="none" stroke="#000" stroke-opacity="0.75" stroke-width="3.6"/>
<path d="M497.4 807.3l8.4 8.4l-8.4 8.4l-8.4 -8.4z" fill="none" stroke="#000" stroke-opacity="0.75" stroke-width="3.6"/>
<path d="M508.2 801.3l8.4 8.4l-8.4 8.4l-8.4 -8.4z" fill="none" stroke="#000" stroke-opacity="0.75" stroke-width="3.6"/>
<path d="M500.3 804.3l8.4 8.4l-8.4 8.4l-8.4 -8.4z" fill="none" stroke="#000" stroke-opacity="0.75" stroke-width="3.6"/>
<path d="M525.0 817.1l8.4 8.4l-8.4 8.4l-8.4 -8.4z" fill="none" stroke="#000" stroke-opacity="0.75" stroke-width="3.6"/>
<path d="M480.6 829.0l8.4 8.4l-8.4 8.4l-8.4 -8.4z" fill="none" stroke="#000" stroke-opacity="0.75" stroke-width="3.6"/>
<path d="M494.4 829.0l8.4 8.4l-8.4 8.4l-8.4 -8.4z" fill="none" stroke="#000" stroke-opacity="0.75" stroke-width="3.6"/>
<path d="M509.2 831.0l8.4 8.4l-8.4 8.4l-8.4 -8.4z" fill="none" stroke="#000" stroke-opacity="0.75" stroke-width="3.6"/>
<path d="M519.0 825.0l8.4 8.4l-8.4 8.4l-8.4 -8.4z" fill="none" stroke="#000" stroke-opacity="0.75" stroke-width="3.6"/>
<path d="M474.7 848.6l8.4 8.4l-8.4 8.4l-8.4 -8.4z" fill="none" stroke="#000" stroke-opacity="0.75" stroke-width="3.6"/>
<path d="M491.5 846.6l8.4 8.4l-8.4 8.4l-8.4 -8.4z" fill="none" stroke="#000" stroke-opacity="0.75" stroke-width="3.6"/>
<path d="M509.2 850.6l8.4 8.4l-8.4 8.4l-8.4 -8.4z" fill="none" stroke="#000" stroke-opacity="0.75" stroke-width="3.6"/>
<path d="M521.0 845.6l8.4 8.4l-8.4 8.4l-8.4 -8.4z" fill="none" stroke="#000" stroke-opacity="0.75" stroke-width="3.6"/>
<path d="M504.3 864.6l8.4 8.4l-8.4 8.4l-8.4 -8.4z" fill="none" stroke="#000" stroke-opacity="0.75" stroke-width="3.6"/>
<path d="M534.0 866.6l8.4 8.4l-8.4 8.4l-8.4 -8.4z" fill="none" stroke="#000" stroke-opacity="0.75" stroke-width="3.6"/>
<path d="M503.0 811.6l8.4 8.4l-8.4 8.4l-8.4 -8.4z" fill="none" stroke="#000" stroke-opacity="0.75" stroke-width="3.6"/>
<path d="M488.0 819.6l8.4 8.4l-8.4 8.4l-8.4 -8.4z" fill="none" stroke="#000" stroke-opacity="0.75" stroke-width="3.6"/>
<path d="M619.8 755.1l8.4 8.4l-8.4 8.4l-8.4 -8.4z" fill="none" stroke="#000" stroke-opacity="0.75" stroke-width="3.6"/>
<path d="M637.3 752.4l8.4 8.4l-8.4 8.4l-8.4 -8.4z" fill="none" stroke="#000" stroke-opacity="0.75" stroke-width="3.6"/>
<path d="M634.6 764.5l8.4 8.4l-8.4 8.4l-8.4 -8.4z" fill="none" stroke="#000" stroke-opacity="0.75" stroke-width="3.6"/>
<path d="M625.2 772.6l8.4 8.4l-8.4 8.4l-8.4 -8.4z" fill="none" stroke="#000" stroke-opacity="0.75" stroke-width="3.6"/>
<path d="M614.4 780.6l8.4 8.4l-8.4 8.4l-8.4 -8.4z" fill="none" stroke="#000" stroke-opacity="0.75" stroke-width="3.6"/>
<path d="M596.9 794.1l8.4 8.4l-8.4 8.4l-8.4 -8.4z" fill="none" stroke="#000" stroke-opacity="0.75" stroke-width="3.6"/>
<path d="M621.0 796.8l8.4 8.4l-8.4 8.4l-8.4 -8.4z" fill="none" stroke="#000" stroke-opacity="0.75" stroke-width="3.6"/>
<path d="M610.4 804.9l8.4 8.4l-8.4 8.4l-8.4 -8.4z" fill="none" stroke="#000" stroke-opacity="0.75" stroke-width="3.6"/>
<path d="M605.0 814.3l8.4 8.4l-8.4 8.4l-8.4 -8.4z" fill="none" stroke="#000" stroke-opacity="0.75" stroke-width="3.6"/>
<path d="M614.4 826.4l8.4 8.4l-8.4 8.4l-8.4 -8.4z" fill="none" stroke="#000" stroke-opacity="0.75" stroke-width="3.6"/>
<path d="M588.8 862.6l8.4 8.4l-8.4 8.4l-8.4 -8.4z" fill="none" stroke="#000" stroke-opacity="0.75" stroke-width="3.6"/>
<path d="M661.5 846.6l8.4 8.4l-8.4 8.4l-8.4 -8.4z" fill="none" stroke="#000" stroke-opacity="0.75" stroke-width="3.6"/>
<path d="M642.7 749.6l8.4 8.4l-8.4 8.4l-8.4 -8.4z" fill="none" stroke="#000" stroke-opacity="0.75" stroke-width="3.6"/>
<path d="M630.0 761.6l8.4 8.4l-8.4 8.4l-8.4 -8.4z" fill="none" stroke="#000" stroke-opacity="0.75" stroke-width="3.6"/>
<path d="M618.0 787.6l8.4 8.4l-8.4 8.4l-8.4 -8.4z" fill="none" stroke="#000" stroke-opacity="0.75" stroke-width="3.6"/>
<path d="M380.0 796.6l8.4 8.4l-8.4 8.4l-8.4 -8.4z" fill="none" stroke="#000" stroke-opacity="0.75" stroke-width="3.6"/>
<path d="M390.0 799.6l8.4 8.4l-8.4 8.4l-8.4 -8.4z" fill="none" stroke="#000" stroke-opacity="0.75" stroke-width="3.6"/>
<path d="M398.0 803.6l8.4 8.4l-8.4 8.4l-8.4 -8.4z" fill="none" stroke="#000" stroke-opacity="0.75" stroke-width="3.6"/>
<path d="M498.0 803.6l8.4 8.4l-8.4 8.4l-8.4 -8.4z" fill="none" stroke="#000" stroke-opacity="0.75" stroke-width="3.6"/>
<path d="M505.0 807.6l8.4 8.4l-8.4 8.4l-8.4 -8.4z" fill="none" stroke="#000" stroke-opacity="0.75" stroke-width="3.6"/>
<path d="M502.0 799.6l8.4 8.4l-8.4 8.4l-8.4 -8.4z" fill="none" stroke="#000" stroke-opacity="0.75" stroke-width="3.6"/>
<path d="M625.0 769.6l8.4 8.4l-8.4 8.4l-8.4 -8.4z" fill="none" stroke="#000" stroke-opacity="0.75" stroke-width="3.6"/>
<path d="M630.0 763.6l8.4 8.4l-8.4 8.4l-8.4 -8.4z" fill="none" stroke="#000" stroke-opacity="0.75" stroke-width="3.6"/>
<path d="M615.0 786.6l8.4 8.4l-8.4 8.4l-8.4 -8.4z" fill="none" stroke="#000" stroke-opacity="0.75" stroke-width="3.6"/>
<text x="0" y="0" transform="translate(573,774)" font-size="31" text-anchor="start" fill="#555" >72</text>
<rect x="220" y="754" width="459" height="146" fill="none" stroke="#222" stroke-width="4"/>
<line x1="242" y1="900" x2="242" y2="928" stroke="#222" stroke-width="4"/>
<line x1="317" y1="900" x2="317" y2="928" stroke="#222" stroke-width="4"/>
<line x1="392" y1="900" x2="392" y2="928" stroke="#222" stroke-width="4"/>
<line x1="470" y1="900" x2="470" y2="928" stroke="#222" stroke-width="4"/>
<line x1="545" y1="900" x2="545" y2="928" stroke="#222" stroke-width="4"/>
<line x1="620" y1="900" x2="620" y2="928" stroke="#222" stroke-width="4"/>
<line x1="192" y1="758" x2="220" y2="758" stroke="#222" stroke-width="4"/>
<line x1="192" y1="787.5" x2="220" y2="787.5" stroke="#222" stroke-width="4"/>
<line x1="192" y1="812.6" x2="220" y2="812.6" stroke="#222" stroke-width="4"/>
<line x1="192" y1="843" x2="220" y2="843" stroke="#222" stroke-width="4"/>
<line x1="192" y1="869" x2="220" y2="869" stroke="#222" stroke-width="4"/>
<line x1="192" y1="898" x2="220" y2="898" stroke="#222" stroke-width="4"/>
<text x="0" y="0" transform="translate(242,998) scale(0.92,1.14)" font-size="42" text-anchor="middle" fill="#3c3c3c"  stroke="#3c3c3c" stroke-width="1.5" letter-spacing="1.7">1.8</text>
<text x="0" y="0" transform="translate(392,998) scale(0.92,1.14)" font-size="42" text-anchor="middle" fill="#3c3c3c"  stroke="#3c3c3c" stroke-width="1.5" letter-spacing="1.7">2.2</text>
<text x="0" y="0" transform="translate(545,998) scale(0.92,1.14)" font-size="42" text-anchor="middle" fill="#3c3c3c"  stroke="#3c3c3c" stroke-width="1.5" letter-spacing="1.7">2.6</text>
<text x="0" y="0" transform="translate(160,788) rotate(-90) scale(0.92,1.14)" font-size="42" text-anchor="middle" fill="#3c3c3c"  stroke="#3c3c3c" stroke-width="1.5" letter-spacing="1.7">0.8</text>
<text x="0" y="0" transform="translate(160,899) rotate(-90) scale(0.92,1.14)" font-size="42" text-anchor="middle" fill="#3c3c3c"  stroke="#3c3c3c" stroke-width="1.5" letter-spacing="1.7">0.0</text>
<text x="0" y="0" transform="translate(54,812) rotate(-90) scale(1,1.1)" font-size="42" text-anchor="middle" fill="#3c3c3c"  stroke="#3c3c3c" stroke-width="1.5">|Std. Pearson resid.|</text>
<line x1="6.5" y1="625.5" x2="6.5" y2="1010" stroke="#111" stroke-width="5"/>
<polyline points="5,1009 20,1012 54,1019.5" fill="none" stroke="#444" stroke-width="3.6"/>
<polyline points="45,1017.5 33.5,1024 38,1031" fill="none" stroke="#444" stroke-width="3.2"/>
<text x="0" y="0" transform="translate(444,1102)" font-size="42" text-anchor="middle" fill="#3c3c3c"  stroke="#3c3c3c" stroke-width="1.5">Predicted values</text>
<text x="0" y="0" transform="translate(1229,734)" font-size="51" text-anchor="middle" fill="#3c3c3c"  stroke="#3c3c3c" stroke-width="1.5">Residuals vs Leverage</text>
<line x1="1018" y1="757" x2="1018" y2="899" stroke="#aaa" stroke-width="3" stroke-dasharray="4 9"/>
<line x1="1018" y1="830" x2="1459" y2="830" stroke="#aaa" stroke-width="3" stroke-dasharray="4 9"/>
<line x1="1038" y1="849.4" x2="1085" y2="849.4" stroke="#a85070" stroke-opacity="0.6" stroke-width="3" stroke-dasharray="16 10"/>
<polyline points="1088,847 1110,836 1130,826 1150,819 1170,817 1195,820 1230,826 1260,831 1290,834 1310,836 1445,836" fill="none" stroke="#a85070" stroke-width="2.6" />
<path d="M1097.0 788.3l8.4 8.4l-8.4 8.4l-8.4 -8.4z" fill="none" stroke="#000" stroke-opacity="0.75" stroke-width="3.6"/>
<path d="M1159.4 760.9l8.4 8.4l-8.4 8.4l-8.4 -8.4z" fill="none" stroke="#000" stroke-opacity="0.75" stroke-width="3.6"/>
<path d="M1175.0 779.2l8.4 8.4l-8.4 8.4l-8.4 -8.4z" fill="none" stroke="#000" stroke-opacity="0.75" stroke-width="3.6"/>
<path d="M1098.0 811.6l8.4 8.4l-8.4 8.4l-8.4 -8.4z" fill="none" stroke="#000" stroke-opacity="0.75" stroke-width="3.6"/>
<path d="M1116.5 794.8l8.4 8.4l-8.4 8.4l-8.4 -8.4z" fill="none" stroke="#000" stroke-opacity="0.75" stroke-width="3.6"/>
<path d="M1132.0 801.3l8.4 8.4l-8.4 8.4l-8.4 -8.4z" fill="none" stroke="#000" stroke-opacity="0.75" stroke-width="3.6"/>
<path d="M1158.0 793.6l8.4 8.4l-8.4 8.4l-8.4 -8.4z" fill="none" stroke="#000" stroke-opacity="0.75" stroke-width="3.6"/>
<path d="M1093.0 836.6l8.4 8.4l-8.4 8.4l-8.4 -8.4z" fill="none" stroke="#000" stroke-opacity="0.75" stroke-width="3.6"/>
<path d="M1127.0 846.6l8.4 8.4l-8.4 8.4l-8.4 -8.4z" fill="none" stroke="#000" stroke-opacity="0.75" stroke-width="3.6"/>
<path d="M1123.0 863.6l8.4 8.4l-8.4 8.4l-8.4 -8.4z" fill="none" stroke="#000" stroke-opacity="0.75" stroke-width="3.6"/>
<path d="M1119.0 876.6l8.4 8.4l-8.4 8.4l-8.4 -8.4z" fill="none" stroke="#000" stroke-opacity="0.75" stroke-width="3.6"/>
<path d="M1134.7 854.6l8.4 8.4l-8.4 8.4l-8.4 -8.4z" fill="none" stroke="#000" stroke-opacity="0.75" stroke-width="3.6"/>
<path d="M1155.5 869.0l8.4 8.4l-8.4 8.4l-8.4 -8.4z" fill="none" stroke="#000" stroke-opacity="0.75" stroke-width="3.6"/>
<path d="M1168.5 843.0l8.4 8.4l-8.4 8.4l-8.4 -8.4z" fill="none" stroke="#000" stroke-opacity="0.75" stroke-width="3.6"/>
<path d="M1141.0 823.6l8.4 8.4l-8.4 8.4l-8.4 -8.4z" fill="none" stroke="#000" stroke-opacity="0.75" stroke-width="3.6"/>
<path d="M1153.0 827.3l8.4 8.4l-8.4 8.4l-8.4 -8.4z" fill="none" stroke="#000" stroke-opacity="0.75" stroke-width="3.6"/>
<path d="M1207.8 758.3l8.4 8.4l-8.4 8.4l-8.4 -8.4z" fill="none" stroke="#000" stroke-opacity="0.75" stroke-width="3.6"/>
<path d="M1244.2 781.6l8.4 8.4l-8.4 8.4l-8.4 -8.4z" fill="none" stroke="#000" stroke-opacity="0.75" stroke-width="3.6"/>
<path d="M1207.8 801.3l8.4 8.4l-8.4 8.4l-8.4 -8.4z" fill="none" stroke="#000" stroke-opacity="0.75" stroke-width="3.6"/>
<path d="M1224.7 798.6l8.4 8.4l-8.4 8.4l-8.4 -8.4z" fill="none" stroke="#000" stroke-opacity="0.75" stroke-width="3.6"/>
<path d="M1245.5 802.6l8.4 8.4l-8.4 8.4l-8.4 -8.4z" fill="none" stroke="#000" stroke-opacity="0.75" stroke-width="3.6"/>
<path d="M1263.8 811.6l8.4 8.4l-8.4 8.4l-8.4 -8.4z" fill="none" stroke="#000" stroke-opacity="0.75" stroke-width="3.6"/>
<path d="M1189.5 824.6l8.4 8.4l-8.4 8.4l-8.4 -8.4z" fill="none" stroke="#000" stroke-opacity="0.75" stroke-width="3.6"/>
<path d="M1213.0 824.6l8.4 8.4l-8.4 8.4l-8.4 -8.4z" fill="none" stroke="#000" stroke-opacity="0.75" stroke-width="3.6"/>
<path d="M1235.0 831.2l8.4 8.4l-8.4 8.4l-8.4 -8.4z" fill="none" stroke="#000" stroke-opacity="0.75" stroke-width="3.6"/>
<path d="M1263.8 836.4l8.4 8.4l-8.4 8.4l-8.4 -8.4z" fill="none" stroke="#000" stroke-opacity="0.75" stroke-width="3.6"/>
<path d="M1253.3 856.0l8.4 8.4l-8.4 8.4l-8.4 -8.4z" fill="none" stroke="#000" stroke-opacity="0.75" stroke-width="3.6"/>
<path d="M1274.0 853.4l8.4 8.4l-8.4 8.4l-8.4 -8.4z" fill="none" stroke="#000" stroke-opacity="0.75" stroke-width="3.6"/>
<path d="M1177.8 815.6l8.4 8.4l-8.4 8.4l-8.4 -8.4z" fill="none" stroke="#000" stroke-opacity="0.75" stroke-width="3.6"/>
<path d="M1319.5 816.0l8.4 8.4l-8.4 8.4l-8.4 -8.4z" fill="none" stroke="#000" stroke-opacity="0.75" stroke-width="3.6"/>
<path d="M1334.0 829.6l8.4 8.4l-8.4 8.4l-8.4 -8.4z" fill="none" stroke="#000" stroke-opacity="0.75" stroke-width="3.6"/>
<path d="M1426.7 803.6l8.4 8.4l-8.4 8.4l-8.4 -8.4z" fill="none" stroke="#000" stroke-opacity="0.75" stroke-width="3.6"/>
<path d="M1444.0 823.4l8.4 8.4l-8.4 8.4l-8.4 -8.4z" fill="none" stroke="#000" stroke-opacity="0.75" stroke-width="3.6"/>
<path d="M1410.7 837.0l8.4 8.4l-8.4 8.4l-8.4 -8.4z" fill="none" stroke="#000" stroke-opacity="0.75" stroke-width="3.6"/>
<path d="M1126.0 801.6l8.4 8.4l-8.4 8.4l-8.4 -8.4z" fill="none" stroke="#000" stroke-opacity="0.75" stroke-width="3.6"/>
<path d="M1138.0 803.6l8.4 8.4l-8.4 8.4l-8.4 -8.4z" fill="none" stroke="#000" stroke-opacity="0.75" stroke-width="3.6"/>
<path d="M1145.0 806.6l8.4 8.4l-8.4 8.4l-8.4 -8.4z" fill="none" stroke="#000" stroke-opacity="0.75" stroke-width="3.6"/>
<path d="M1155.0 803.6l8.4 8.4l-8.4 8.4l-8.4 -8.4z" fill="none" stroke="#000" stroke-opacity="0.75" stroke-width="3.6"/>
<path d="M1165.0 804.6l8.4 8.4l-8.4 8.4l-8.4 -8.4z" fill="none" stroke="#000" stroke-opacity="0.75" stroke-width="3.6"/>
<path d="M1178.0 806.6l8.4 8.4l-8.4 8.4l-8.4 -8.4z" fill="none" stroke="#000" stroke-opacity="0.75" stroke-width="3.6"/>
<path d="M1176.0 796.6l8.4 8.4l-8.4 8.4l-8.4 -8.4z" fill="none" stroke="#000" stroke-opacity="0.75" stroke-width="3.6"/>
<path d="M1113.0 809.0l8.4 8.4l-8.4 8.4l-8.4 -8.4z" fill="none" stroke="#000" stroke-opacity="0.75" stroke-width="3.6"/>
<path d="M1147.0 819.6l8.4 8.4l-8.4 8.4l-8.4 -8.4z" fill="none" stroke="#000" stroke-opacity="0.75" stroke-width="3.6"/>
<path d="M1163.0 813.6l8.4 8.4l-8.4 8.4l-8.4 -8.4z" fill="none" stroke="#000" stroke-opacity="0.75" stroke-width="3.6"/>
<path d="M1105.0 829.6l8.4 8.4l-8.4 8.4l-8.4 -8.4z" fill="none" stroke="#000" stroke-opacity="0.75" stroke-width="3.6"/>
<path d="M1120.0 821.6l8.4 8.4l-8.4 8.4l-8.4 -8.4z" fill="none" stroke="#000" stroke-opacity="0.75" stroke-width="3.6"/>
<path d="M1195.0 813.6l8.4 8.4l-8.4 8.4l-8.4 -8.4z" fill="none" stroke="#000" stroke-opacity="0.75" stroke-width="3.6"/>
<path d="M1111.0 819.6l8.4 8.4l-8.4 8.4l-8.4 -8.4z" fill="none" stroke="#000" stroke-opacity="0.75" stroke-width="3.6"/>
<text x="0" y="0" transform="translate(1159,870.5)" font-size="42" text-anchor="start" fill="#3c3c3c"  stroke="#3c3c3c" stroke-width="1.5">Cook's distance</text>
<text x="0" y="0" transform="translate(1209,889)" font-size="31" text-anchor="start" fill="#555" >72</text>
<text x="0" y="0" transform="translate(1178,779)" font-size="28" text-anchor="start" fill="#555" >71</text>
<rect x="1001" y="755" width="460" height="146" fill="none" stroke="#222" stroke-width="4"/>
<line x1="1017" y1="901" x2="1017" y2="928" stroke="#222" stroke-width="4"/>
<line x1="1089" y1="901" x2="1089" y2="928" stroke="#222" stroke-width="4"/>
<line x1="1157" y1="901" x2="1157" y2="928" stroke="#222" stroke-width="4"/>
<line x1="1229" y1="901" x2="1229" y2="928" stroke="#222" stroke-width="4"/>
<line x1="1301" y1="901" x2="1301" y2="928" stroke="#222" stroke-width="4"/>
<line x1="1370" y1="901" x2="1370" y2="928" stroke="#222" stroke-width="4"/>
<line x1="1442" y1="901" x2="1442" y2="928" stroke="#222" stroke-width="4"/>
<line x1="975" y1="769" x2="1001" y2="769" stroke="#222" stroke-width="4"/>
<line x1="975" y1="801" x2="1001" y2="801" stroke="#222" stroke-width="4"/>
<line x1="975" y1="830" x2="1001" y2="830" stroke="#222" stroke-width="4"/>
<line x1="975" y1="859" x2="1001" y2="859" stroke="#222" stroke-width="4"/>
<line x1="975" y1="890" x2="1001" y2="890" stroke="#222" stroke-width="4"/>
<text x="0" y="0" transform="translate(1014,999) scale(0.92,1.14)" font-size="42" text-anchor="middle" fill="#3c3c3c"  stroke="#3c3c3c" stroke-width="1.5" letter-spacing="1.7">0.00</text>
<text x="0" y="0" transform="translate(1155,999) scale(0.92,1.14)" font-size="42" text-anchor="middle" fill="#3c3c3c"  stroke="#3c3c3c" stroke-width="1.5" letter-spacing="1.7">0.10</text>
<text x="0" y="0" transform="translate(1298,999) scale(0.92,1.14)" font-size="42" text-anchor="middle" fill="#3c3c3c"  stroke="#3c3c3c" stroke-width="1.5" letter-spacing="1.7">0.20</text>
<text x="0" y="0" transform="translate(1439,999) scale(0.92,1.14)" font-size="42" text-anchor="middle" fill="#3c3c3c"  stroke="#3c3c3c" stroke-width="1.5" letter-spacing="1.7">0.30</text>
<text x="0" y="0" transform="translate(942,765) rotate(-90) scale(0.92,1.14)" font-size="42" text-anchor="middle" fill="#3c3c3c"  stroke="#3c3c3c" stroke-width="1.5" letter-spacing="1.7">1.0</text>
<text x="0" y="0" transform="translate(942,890) rotate(-90) scale(0.92,1.14)" font-size="42" text-anchor="middle" fill="#3c3c3c"  stroke="#3c3c3c" stroke-width="1.5" letter-spacing="1.7">-1.0</text>
<text x="0" y="0" transform="translate(838.5,830) rotate(-90) scale(1,1.12)" font-size="42" text-anchor="middle" fill="#3c3c3c"  stroke="#3c3c3c" stroke-width="1.5">Std. Pearson resid.</text>
<text x="0" y="0" transform="translate(1226,1101)" font-size="42" text-anchor="middle" fill="#3c3c3c"  stroke="#3c3c3c" stroke-width="1.5" letter-spacing="-0.7">Leverage</text>
</g>
</svg>
</body></html>
